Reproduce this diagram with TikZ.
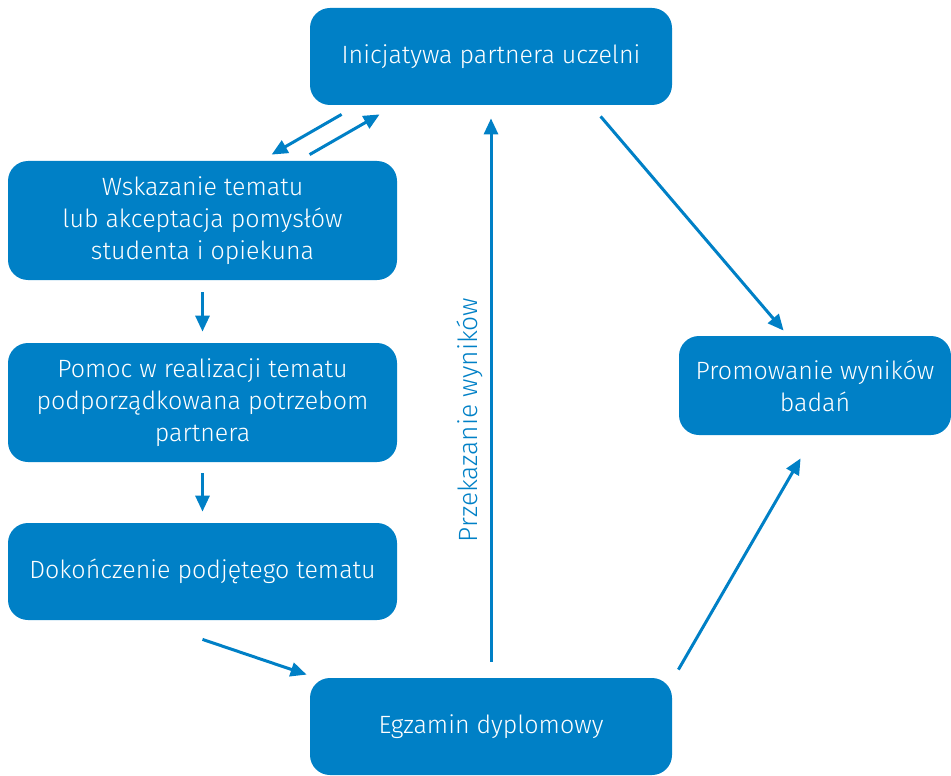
\documentclass[tikz,border=0pt]{standalone}
\usepackage{fontspec}
\setmainfont{Fira Sans}[UprightFont=* Light]
\usetikzlibrary{arrows.meta, calc, positioning}
\definecolor{uniblue}{RGB}{0,128,198}

\begin{document}
\begin{tikzpicture}[x=0.5pt, y=-0.5pt,
  box/.style={fill=uniblue, text=white, rounded corners=10pt, align=center,
    font=\fontsize{12.5}{16}\selectfont, inner sep=0pt},
  arr/.style={draw=uniblue, line width=1.5pt, -{Triangle[length=8pt,width=7pt]}}]
\useasboundingbox (0,0) rectangle (951,775);
% boxes
\node[box, minimum width=181pt, minimum height=48.5pt] (ini) at (491,56.5) {Inicjatywa partnera uczelni};
\node[box, minimum width=194.5pt, minimum height=59.5pt] (wsk) at (202.5,220.5) {Wskazanie tematu\\lub akceptacja pomysłów\\studenta i opiekuna};
\node[box, minimum width=194.5pt, minimum height=59.5pt] (pom) at (202.5,402.5) {Pomoc w realizacji tematu\\podporządkowana potrzebom\\partnera};
\node[box, minimum width=194.5pt, minimum height=48.5pt] (dok) at (202.5,571.5) {Dokończenie podjętego tematu};
\node[box, minimum width=181pt, minimum height=48.5pt] (egz) at (491,726.5) {Egzamin dyplomowy};
\node[box, minimum width=136pt, minimum height=49.5pt] (pro) at (815,385.5) {Promowanie wyników\\badań};
% arrows
\draw[arr] ($(ini.south west)+(32,9)$) -- ($(wsk.north west)+(264,-6)$);
\draw[arr] ($(wsk.north west)+(302,-6)$) -- ($(ini.south west)+(70,9)$);
\draw[arr, shorten <=6pt, shorten >=5.5pt] (wsk.south) -- (pom.north);
\draw[arr, shorten <=5.5pt, shorten >=5.5pt] (pom.south) -- (dok.north);
\draw[arr] ($(dok.south)+(0,19)$) -- ($(egz.north west)+(-3,-3)$);
\draw[arr, shorten <=8pt, shorten >=6.5pt] (egz.north) -- node[pos=0.44, rotate=90, above=3pt, text=uniblue, font=\fontsize{13.2}{16}\selectfont] {Przekazanie wyników} (ini.south);
\draw[arr] ($(ini.south west)+(291,11)$) -- ($(pro.north west)+(105,-5)$);
\draw[arr] ($(egz.north east)+(6,-8)$) -- ($(pro.south west)+(122,23)$);
\end{tikzpicture}
\end{document}
